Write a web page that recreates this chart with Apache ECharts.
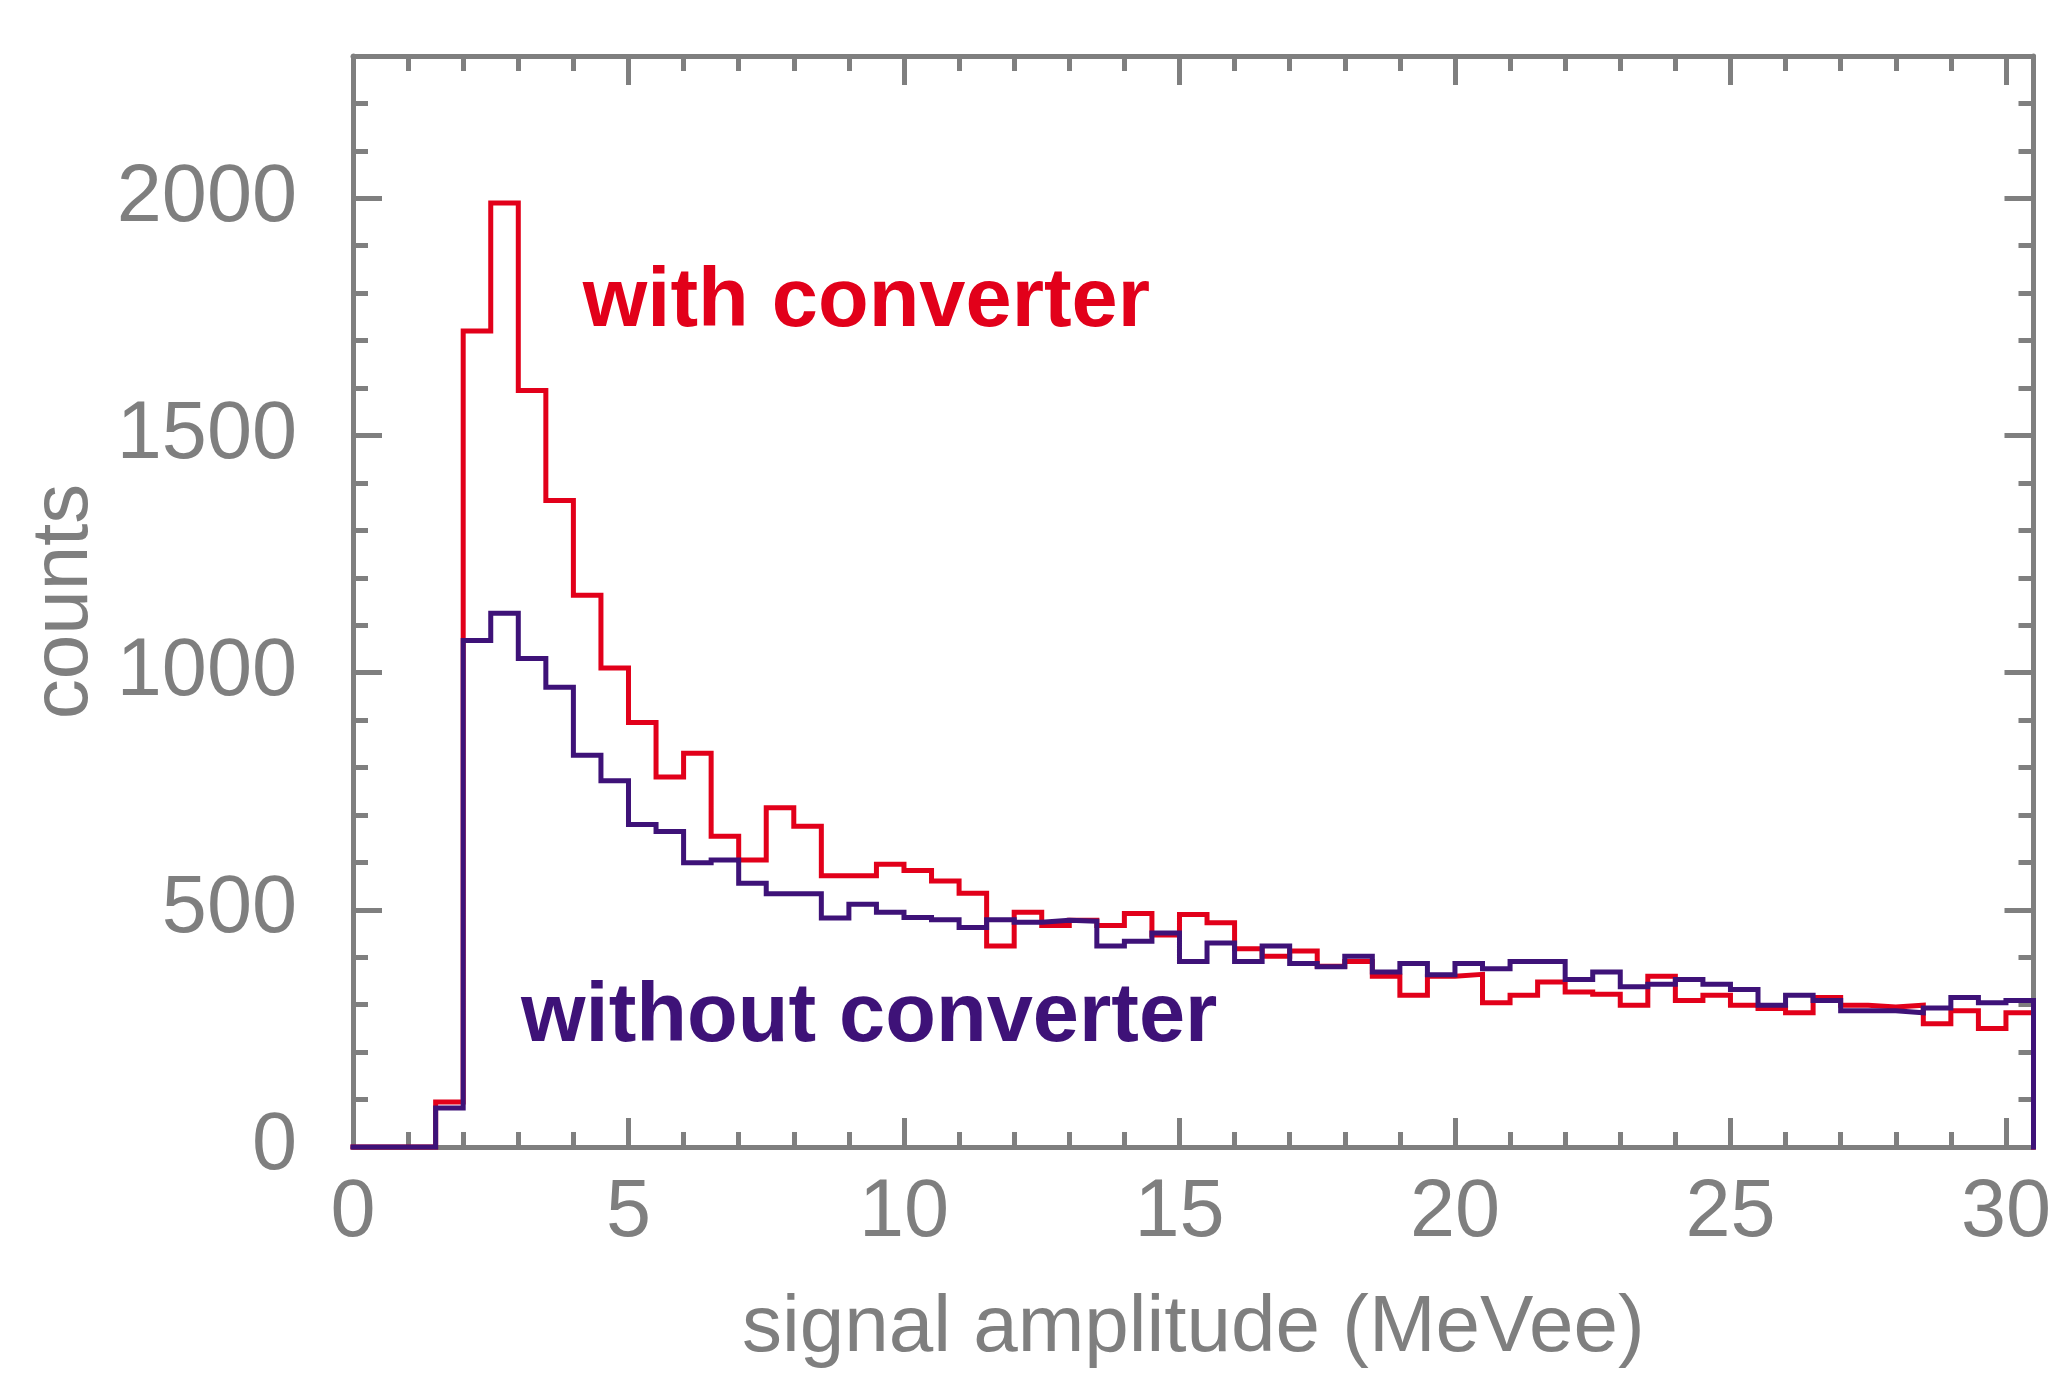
<!DOCTYPE html>
<html>
<head>
<meta charset="utf-8">
<script src="https://cdn.jsdelivr.net/npm/echarts@6/dist/echarts.min.js"></script>
<style>
  html, body { margin: 0; padding: 0; background: #ffffff; }
  #chart { width: 2054px; height: 1375px; }
</style>
</head>
<body>
<div id="chart"></div>
<script>
// ---- data (histogram, bin width 0.5 MeVee, values are counts per bin) ----
const BIN_WIDTH = 0.5;
const withConverter = [
  0, 0, 0, 95, 1720, 1990, 1595, 1363, 1163, 1010,
  895, 780, 830, 655, 605, 715, 676, 572, 572, 596,
  583, 561, 535, 424, 495, 467, 478, 467, 492, 447,
  490, 473, 418, 402, 413, 381, 391, 360, 320, 360,
  364, 304, 320, 348, 327, 322, 299, 360, 309, 320,
  299, 292, 283, 315, 299, 295, 299, 260, 287, 250,
  283
];
const withoutConverter = [
  0, 0, 0, 82, 1068, 1125, 1030, 969, 826, 772,
  680, 665, 599, 605, 556, 534, 534, 483, 512, 495,
  484, 479, 463, 479, 474, 478, 476, 424, 434, 451,
  391, 430, 391, 424, 387, 380, 402, 369, 387, 363,
  387, 376, 391, 391, 353, 369, 338, 343, 353, 343,
  332, 299, 320, 309, 287, 287, 283, 293, 315, 304,
  309
];
const xTickLabels = ['0', '5', '10', '15', '20', '25', '30'];
const yTickLabels = ['0', '500', '1000', '1500', '2000'];
const seriesNames = ['with converter', 'without converter'];
const xAxisTitle = 'signal amplitude (MeVee)';
const yAxisTitle = 'counts';

// ---- styling ----
const GRAY = '#7f7f7f';
const RED = '#e2001a';
const PURPLE = '#3e1278';
const FONT = '"Liberation Sans", Arial, Helvetica, sans-serif';
const X_MAX = withConverter.length * BIN_WIDTH;
const Y_MAX = 2300;

function stepPoints(values) {
  const pts = values.map((v, i) => [i * BIN_WIDTH, v]);
  pts.push([values.length * BIN_WIDTH, 0]);
  return pts;
}

function xAxisDef(position, major) {
  return {
    type: 'value', position: position, min: 0, max: X_MAX,
    interval: major ? 5 : 1,
    axisLine: { show: major, onZero: false, lineStyle: { color: GRAY, width: 5 } },
    axisTick: { show: true, inside: true, length: major ? 29 : 15, lineStyle: { color: GRAY, width: 5 } },
    axisLabel: {
      show: major && position === 'bottom', fontSize: 81, color: GRAY, fontFamily: FONT,
      margin: 26, showMaxLabel: false,
      formatter: function (v) { const s = String(v); return xTickLabels.indexOf(s) >= 0 ? s : ''; }
    },
    splitLine: { show: false },
    name: (major && position === 'bottom') ? xAxisTitle : '',
    nameLocation: 'middle', nameGap: 142,
    nameTextStyle: { fontSize: 80, color: GRAY, fontFamily: FONT }
  };
}
function yAxisDef(position, major) {
  return {
    type: 'value', position: position, min: 0, max: Y_MAX,
    interval: major ? 500 : 100,
    axisLine: { show: major, onZero: false, lineStyle: { color: GRAY, width: 5 } },
    axisTick: { show: true, inside: true, length: major ? 29 : 15, lineStyle: { color: GRAY, width: 5 } },
    axisLabel: {
      show: major && position === 'left', fontSize: 81, color: GRAY, fontFamily: FONT,
      margin: 56, showMaxLabel: false,
      formatter: function (v) { const s = String(v); return yTickLabels.indexOf(s) >= 0 ? s : ''; }
    },
    splitLine: { show: false },
    name: (major && position === 'left') ? yAxisTitle : '',
    nameLocation: 'middle', nameGap: 248, nameRotate: 90,
    nameTextStyle: { fontSize: 80, color: GRAY, fontFamily: FONT }
  };
}

const chart = echarts.init(document.getElementById('chart'), null, { renderer: 'canvas' });
chart.setOption({
  animation: false,
  backgroundColor: '#ffffff',
  grid: { left: 353, right: 17.5, top: 56, bottom: 228, containLabel: false },
  xAxis: [xAxisDef('bottom', true), xAxisDef('bottom', false), xAxisDef('top', true), xAxisDef('top', false)],
  yAxis: [yAxisDef('left', true), yAxisDef('left', false), yAxisDef('right', true), yAxisDef('right', false)],
  series: [
    {
      name: seriesNames[0], type: 'line', step: 'end', data: stepPoints(withConverter),
      xAxisIndex: 0, yAxisIndex: 0, showSymbol: false, symbol: 'none', clip: false,
      lineStyle: { color: RED, width: 5, join: 'miter', cap: 'square' }, z: 3
    },
    {
      name: seriesNames[1], type: 'line', step: 'end', data: stepPoints(withoutConverter),
      xAxisIndex: 0, yAxisIndex: 0, showSymbol: false, symbol: 'none', clip: false,
      lineStyle: { color: PURPLE, width: 5, join: 'miter', cap: 'square' }, z: 4
    }
  ]
});

// annotation labels anchored in data coordinates
const p1 = chart.convertToPixel({ xAxisIndex: 0, yAxisIndex: 0 }, [4.17, 1780]);
const p2 = chart.convertToPixel({ xAxisIndex: 0, yAxisIndex: 0 }, [3.05, 271]);
chart.setOption({
  graphic: [
    { type: 'text', z: 10,
      style: { text: seriesNames[0], x: p1[0], y: p1[1], fill: RED, fontSize: 83, fontWeight: 'bold', fontFamily: FONT, align: 'left', verticalAlign: 'middle' } },
    { type: 'text', z: 10,
      style: { text: seriesNames[1], x: p2[0], y: p2[1], fill: PURPLE, fontSize: 83, fontWeight: 'bold', fontFamily: FONT, align: 'left', verticalAlign: 'middle' } }
  ]
});
</script>
</body>
</html>
